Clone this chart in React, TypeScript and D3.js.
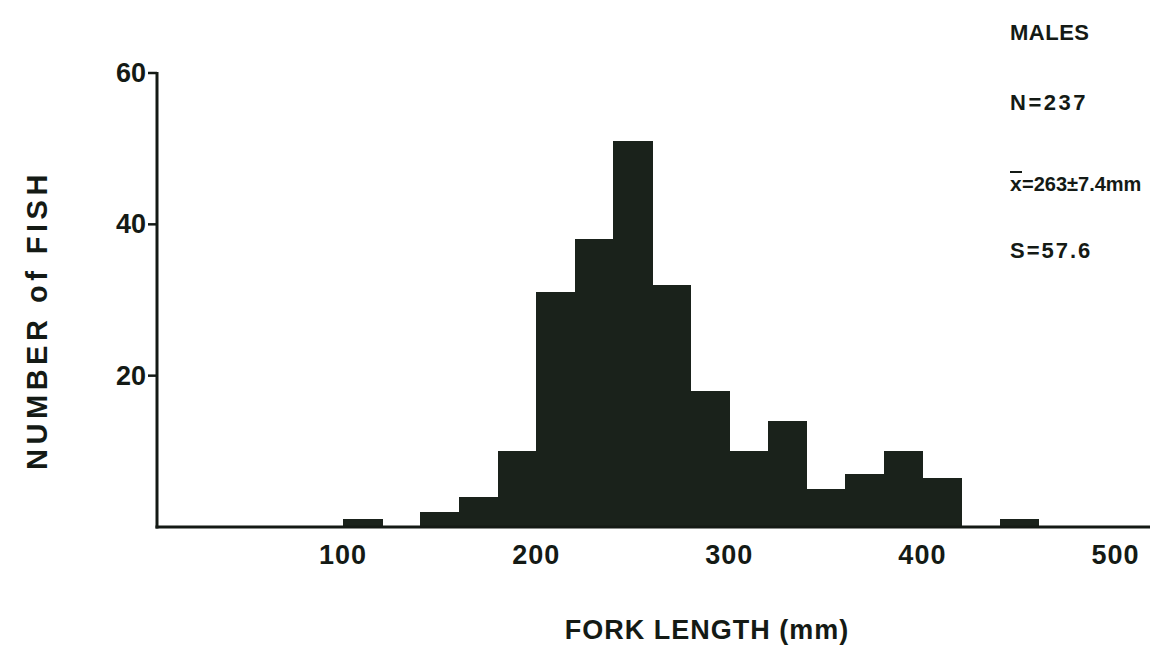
import React from "react";
import * as d3 from "d3";

const binStarts = [100, 140, 160, 180, 200, 220, 240, 260, 280, 300, 320, 340, 360, 380, 400, 440];
const counts = [1, 2, 4, 10, 31, 38, 51, 32, 18, 10, 14, 5, 7, 10, 6.5, 1];
const binWidth = 20;
const xTicks = [100, 200, 300, 400, 500];
const yTicks = [20, 40, 60];
const statTitle = "MALES";
const statN = "N=237";
const statMeanRest = "=263±7.4mm";
const statS = "S=57.6";

const W = 1151;
const H = 652;
const FONT = "'Liberation Sans', Arial, Helvetica, sans-serif";
const INK = "#141a15";
const BAR = "#1a221b";

export default function App() {
  const x = d3.scaleLinear().domain([0, 500]).range([150, 1115.5]);
  const y = d3.scaleLinear().domain([0, 60]).range([527, 73]);
  const axisX = 157;

  return (
    <svg width={W} height={H} style={{ position: "absolute", left: 0, top: 0, background: "#fff" }}>
      {/* bars */}
      {binStarts.map((b, i) => (
        <rect
          key={b}
          x={x(b)}
          y={y(counts[i])}
          width={x(b + binWidth) - x(b) + 0.8}
          height={y(0) - y(counts[i])}
          fill={BAR}
          shapeRendering="crispEdges"
        />
      ))}
      {/* axes */}
      <line x1={axisX} x2={axisX} y1={y(60) - 1} y2={y(0) + 1.5} stroke={INK} strokeWidth={3} />
      <line x1={axisX - 1.5} x2={1150} y1={y(0)} y2={y(0)} stroke={INK} strokeWidth={3} />
      {yTicks.map((t) => (
        <g key={t}>
          <line x1={axisX - 9} x2={axisX} y1={y(t)} y2={y(t)} stroke={INK} strokeWidth={2.5} />
          <text
            x={axisX - 11}
            y={y(t)}
            textAnchor="end"
            dominantBaseline="central"
            fontFamily={FONT}
            fontWeight="bold"
            fontSize={27}
            fill={INK}
          >
            {t}
          </text>
        </g>
      ))}
      {xTicks.map((t) => (
        <text
          key={t}
          x={x(t)}
          y={564}
          textAnchor="middle"
          fontFamily={FONT}
          fontWeight="bold"
          fontSize={27}
          letterSpacing={1}
          fill={INK}
        >
          {t}
        </text>
      ))}
      {/* axis titles */}
      <text
        x={707}
        y={639}
        textAnchor="middle"
        fontFamily={FONT}
        fontWeight="bold"
        fontSize={27}
        letterSpacing={1}
        fill={INK}
      >
        FORK LENGTH (mm)
      </text>
      <text
        transform={`translate(47, 320) rotate(-90)`}
        textAnchor="middle"
        fontFamily={FONT}
        fontWeight="bold"
        fontSize={29}
        letterSpacing={4.5}
        fill={INK}
      >
        NUMBER of FISH
      </text>
      {/* stats */}
      <text x={1010} y={40} fontFamily={FONT} fontWeight="bold" fontSize={22} letterSpacing={0.5} fill={INK}>
        {statTitle}
      </text>
      <text x={1010} y={110} fontFamily={FONT} fontWeight="bold" fontSize={22} letterSpacing={2.5} fill={INK}>
        {statN}
      </text>
      <text x={1010} y={191} fontFamily={FONT} fontWeight="bold" fontSize={21} fill={INK}>
        x
      </text>
      <line x1={1010} x2={1022} y1={172} y2={172} stroke={INK} strokeWidth={2} />
      <text x={1022} y={191} fontFamily={FONT} fontWeight="bold" fontSize={20} fill={INK}>
        {statMeanRest}
      </text>
      <text x={1010} y={258} fontFamily={FONT} fontWeight="bold" fontSize={22} letterSpacing={2} fill={INK}>
        {statS}
      </text>
    </svg>
  );
}
